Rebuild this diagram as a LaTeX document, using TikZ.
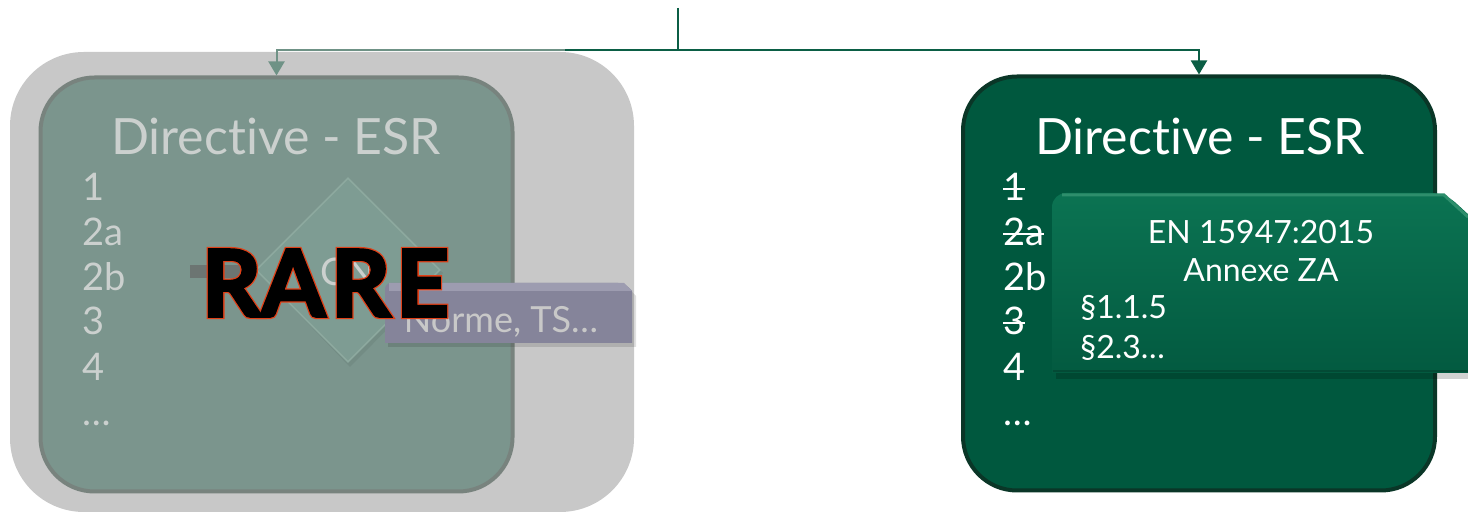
\documentclass[tikz,border=0pt]{standalone}
\usepackage{fontspec}
\setmainfont{Lato}[Ligatures=NoCommon]
\usetikzlibrary{arrows.meta,shapes.geometric}
\definecolor{cgreen}{HTML}{0B5E45}
\definecolor{cfade}{HTML}{6F9286}
\definecolor{rfill}{HTML}{00583E}
\definecolor{rborder}{HTML}{0A3627}
\definecolor{lfill}{HTML}{7B958D}
\definecolor{lborder}{HTML}{78837E}
\definecolor{lgray}{HTML}{C8C8C8}
\definecolor{ltext}{HTML}{CBD0CE}
\definecolor{calTop}{HTML}{0B7352}
\definecolor{calBot}{HTML}{035A40}
\definecolor{calHi}{HTML}{2E8E6C}
\definecolor{calLo}{HTML}{034A35}
\definecolor{nfill}{HTML}{85849A}
\definecolor{nhi}{HTML}{9D9CB0}
\definecolor{dfill}{HTML}{7E9C93}
\definecolor{dline}{HTML}{8DA99F}
\definecolor{plusc}{HTML}{6C7572}
\newsavebox\strkbox
\newcommand\strk[1]{\sbox\strkbox{#1}\rlap{\usebox\strkbox}\rule[0.3em]{\wd\strkbox}{0.055em}}
\newcommand\outlined[1]{\rlap{\special{pdf:literal direct 2 Tr 2.8 w 0.88 0.25 0.09 RG}#1}\special{pdf:literal direct 2 Tr 1.5 w 0 0 0 RG}#1\special{pdf:literal direct 0 Tr}}
\tikzset{
  connline/.style={draw=cgreen, line width=1pt},
  conn/.style={connline, -{Triangle[width=8pt,length=7pt]}},
  connfade/.style={draw=cfade, line width=1pt, -{Triangle[width=8pt,length=7pt]}},
  panel/.style={rounded corners=27pt, line width=2pt, minimum width=236pt, minimum height=207pt, inner sep=0pt},
  ttl/.style={font=\fontsize{25}{30}\selectfont, anchor=base, inner sep=0pt},
  lst/.style={font=\fontsize{19}{22}\selectfont, anchor=base west, inner sep=0pt},
  calt/.style={font=\fontsize{16}{19}\selectfont, text=white, inner sep=0pt},
}
\begin{document}
\begin{tikzpicture}[x=0.5pt,y=-0.5pt]
\fill[white] (0,0) rectangle (1468,512);
\useasboundingbox (0,0) rectangle (1468,512);

% ---------- left (faded) panel ----------
\fill[lgray, rounded corners=37pt] (10,52) rectangle (634,512);
\node[panel, draw=lborder, fill=lfill] (lbox) at (276.5,284.5) {};
\node[ttl, text=ltext] (ltitle) at (276,154.5) {Directive - ESR};
\node[lst, text=ltext] (l1) at (82,201) {1};
\node[lst, text=ltext] (l2) at (82,246) {2a};
\node[lst, text=ltext] (l3) at (82,291) {2b};
\node[lst, text=ltext] (l4) at (82,335) {3};
\node[lst, text=ltext] (l5) at (82,381) {4};
\node[lst, text=ltext] (l6) at (82,426) {…};
% plus sign
\fill[plusc] (190,265) rectangle (246,278);
\fill[plusc] (213,247) rectangle (223,297);
% diamond
\fill[black, opacity=0.06] (350,181)--(443,273)--(350,367)--(259,273)--cycle;
\node[diamond, aspect=1, minimum width=92pt, minimum height=92pt, inner sep=0pt, fill=dfill, draw=dline, line width=0.8pt] (dia) at (348,270) {};
\node[font=\fontsize{19}{22}\selectfont, text=ltext] (cn) at (348,272) {CN};
% Norme box
\fill[black, opacity=0.12] (388,347) -- (388,288) -- (628,288) -- (636,296) -- (636,347) -- cycle;
\fill[nfill] (385,343) {[rounded corners=3pt] -- (385,283) -- (624,283)} -- (632,291) -- (632,343) -- cycle;
\fill[nhi] (389,283) -- (624,283) -- (632,291) -- (389,291) -- cycle;
\node[font=\fontsize{18}{21}\selectfont, text=lgray, anchor=base] (norme) at (501,333) {Norme, TS…};
% RARE
\node[font=\fontsize{46}{52}\selectfont\bfseries, text=black, inner sep=0pt] (rare) at (325.5,283) {\outlined{R\kern0pt A\kern3pt R\kern3pt E}};

% ---------- right panel ----------
\node[panel, draw=rborder, fill=rfill] (rbox) at (1199,283.5) {};
\node[ttl, text=white] (rtitle) at (1200,154.5) {Directive - ESR};
\node[lst, text=white] (r1) at (1003,201) {\strk{1}};
\node[lst, text=white] (r2) at (1003,246) {\strk{2a}};
\node[lst, text=white] (r3) at (1003,291) {2b};
\node[lst, text=white] (r4) at (1003,335) {\strk{3}};
\node[lst, text=white] (r5) at (1003,381) {4};
\node[lst, text=white] (r6) at (1003,426) {…};
% callout
\fill[black, opacity=0.18] (1056,379) -- (1056,199) -- (1449,199) -- (1474,222) -- (1474,379) -- cycle;
\shade[top color=calTop, bottom color=calBot] (1052,373) {[rounded corners=7pt] -- (1052,193) -- (1445,193)} -- (1470,216) -- (1470,373) -- cycle;
\draw[calHi, line width=1.5pt] (1062,195) -- (1444,195) -- (1468,217);
\draw[calLo, line width=1pt] (1053,371) -- (1470,371);
\node[calt, anchor=base] (en) at (1261,243.5) {EN 15947:2015};
\node[calt, anchor=base] (annex) at (1261,281.5) {Annexe ZA};
\node[calt, anchor=base west] (p1) at (1080,319) {§1.1.5};
\node[calt, anchor=base west] (p2) at (1080,359) {§2.3…};

% ---------- connectors ----------
\coordinate (top) at (678,8);
\coordinate (jn) at (678,50);
\coordinate (jl) at (565,50);
\draw[connline] (top) -- (jn);
\draw[conn] (jn) -| (rbox.north);
\draw[connline] (jn) -- (jl);
\draw[connfade] (jl) -| (lbox.north);
\end{tikzpicture}
\end{document}
